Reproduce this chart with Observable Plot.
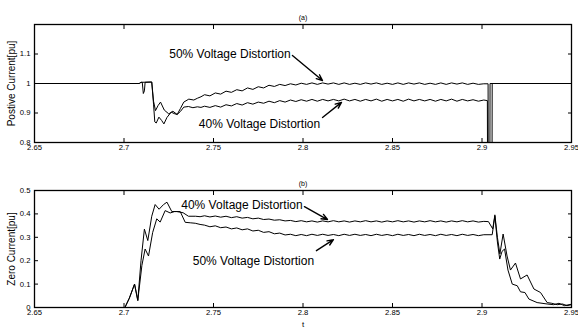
<!DOCTYPE html>
<html><head><meta charset="utf-8">
<script src="https://cdn.jsdelivr.net/npm/d3@7"></script>
<script src="https://cdn.jsdelivr.net/npm/@observablehq/plot@0.6"></script>
<style>body{margin:0;background:#fff;} svg{display:block;}</style>
</head><body><div id="chart"></div>
<script>
// ---- data ----
const xTicks = [2.65, 2.7, 2.75, 2.8, 2.85, 2.9, 2.95];
const posTicks = [0.8, 0.9, 1, 1.1];
const zeroTicks = [0, 0.1, 0.2, 0.3, 0.4, 0.5];

const tSteady = [
 2.745,2.748,2.751,2.754,2.757,2.760,2.763,2.766,2.769,2.772,
 2.775,2.778,2.781,2.784,2.787,2.790,2.793,2.796,2.799,2.802,
 2.805,2.808,2.811,2.814,2.817,2.820,2.823,2.826,2.829,2.832,
 2.835,2.838,2.841,2.844,2.847,2.850,2.853,2.856,2.859,2.862,
 2.865,2.868,2.871,2.874,2.877,2.880,2.883,2.886,2.889,2.892,
 2.895,2.898,2.901];

// (a) positive current, 40% distortion
const pos40Start = [[2.65,1.0],[2.7085,1.0],[2.7095,1.004],[2.7155,1.005],[2.7165,0.93],[2.7172,0.87],[2.7180,0.866],[2.7195,0.886],[2.7210,0.875],[2.7223,0.863],[2.7240,0.885],[2.7264,0.903],[2.7280,0.898],[2.7297,0.895],[2.7315,0.905],[2.7334,0.92],[2.7360,0.922],[2.7385,0.918],[2.7410,0.921],[2.7430,0.919]];
const pos40Steady = [
 0.923,0.919,0.925,0.920,0.928,0.924,0.932,0.927,0.935,0.930,
 0.937,0.933,0.940,0.935,0.942,0.937,0.944,0.939,0.945,0.940,
 0.946,0.940,0.946,0.941,0.946,0.941,0.947,0.941,0.946,0.940,
 0.946,0.941,0.947,0.940,0.946,0.941,0.946,0.940,0.947,0.941,
 0.946,0.941,0.946,0.940,0.946,0.941,0.947,0.940,0.946,0.941,
 0.945,0.940,0.944];
const pos40End = [[2.9030,0.942],[2.9031,0.70],[2.9044,0.70],[2.9045,1.0],[2.95,1.0]];

// (a) positive current, 50% distortion
const pos50Start = [[2.65,1.0],[2.7085,1.0],[2.7095,1.004],[2.7102,1.004],[2.7108,0.966],[2.7114,0.975],[2.7118,1.004],[2.7155,1.005],[2.7165,0.94],[2.7176,0.908],[2.7190,0.925],[2.7204,0.937],[2.7225,0.91],[2.7250,0.897],[2.7273,0.906],[2.7297,0.895],[2.7315,0.915],[2.7334,0.937],[2.7362,0.947],[2.7390,0.944],[2.7410,0.95],[2.7430,0.955]];
const pos50Steady = [
 0.962,0.958,0.968,0.964,0.974,0.970,0.979,0.975,0.985,0.980,
 0.989,0.985,0.994,0.990,0.997,0.993,0.999,0.995,1.001,0.997,
 1.002,0.997,1.002,0.998,1.002,0.997,1.002,0.997,1.001,0.997,
 1.002,0.998,1.002,0.997,1.001,0.997,1.002,0.997,1.002,0.998,
 1.002,0.997,1.001,0.997,1.002,0.997,1.002,0.998,1.002,0.997,
 1.001,0.997,0.999];
const pos50End = [[2.9034,0.999],[2.9035,0.70],[2.9056,0.70],[2.9057,1.0],[2.95,1.0]];

// (b) zero current, 40% distortion
const zero40Start = [[2.65,0],[2.7005,0],[2.7030,0.04],[2.7059,0.10],[2.7077,0.03],[2.7095,0.2],[2.7114,0.335],[2.7133,0.286],[2.7155,0.39],[2.7174,0.44],[2.7196,0.42],[2.7221,0.44],[2.7240,0.45],[2.7267,0.41],[2.7295,0.41],[2.7330,0.405],[2.7360,0.39],[2.7400,0.39],[2.7425,0.388]];
const zero40Steady = [
 0.392,0.387,0.391,0.386,0.390,0.384,0.388,0.382,0.385,0.379,
 0.382,0.376,0.378,0.373,0.375,0.370,0.372,0.367,0.371,0.366,
 0.370,0.365,0.370,0.366,0.371,0.366,0.370,0.365,0.370,0.366,
 0.371,0.366,0.370,0.365,0.370,0.366,0.371,0.366,0.370,0.365,
 0.370,0.366,0.371,0.366,0.370,0.365,0.370,0.366,0.371,0.366,
 0.370,0.365,0.368];
const zero40End = [[2.9036,0.367],[2.9060,0.336],[2.9072,0.396],[2.9086,0.30],[2.9100,0.229],[2.9118,0.314],[2.9140,0.22],[2.9159,0.16],[2.9187,0.19],[2.9215,0.122],[2.9252,0.139],[2.9290,0.079],[2.9327,0.064],[2.9364,0.021],[2.9390,0.018],[2.9420,0.012],[2.9450,0.015],[2.9475,0.008],[2.95,0.012]];

// (b) zero current, 50% distortion
const zero50Start = [[2.65,0],[2.7005,0],[2.7030,0.04],[2.7059,0.10],[2.7077,0.03],[2.7100,0.18],[2.7118,0.25],[2.7137,0.22],[2.7160,0.32],[2.7183,0.379],[2.7202,0.365],[2.7230,0.414],[2.7258,0.404],[2.7282,0.41],[2.7314,0.41],[2.7342,0.364],[2.7370,0.362],[2.7398,0.36],[2.7425,0.355]];
const zero50Steady = [
 0.352,0.345,0.349,0.341,0.344,0.336,0.340,0.332,0.336,0.327,
 0.330,0.321,0.324,0.315,0.318,0.310,0.313,0.307,0.312,0.307,
 0.313,0.308,0.313,0.308,0.312,0.307,0.313,0.308,0.313,0.308,
 0.312,0.307,0.313,0.308,0.312,0.307,0.313,0.308,0.312,0.307,
 0.313,0.308,0.312,0.307,0.313,0.308,0.312,0.307,0.313,0.308,
 0.312,0.307,0.311];
const zero50End = [[2.9057,0.311],[2.9066,0.36],[2.9072,0.39],[2.9086,0.28],[2.9099,0.207],[2.9112,0.24],[2.9126,0.25],[2.9145,0.16],[2.9169,0.10],[2.9197,0.093],[2.9215,0.067],[2.9240,0.064],[2.9262,0.036],[2.9308,0.021],[2.9364,0.015],[2.9400,0.012],[2.9430,0.018],[2.9460,0.008],[2.95,0.014]];

// annotations
const posLabels = [
  {text: "50% Voltage Distortion", t: 2.7592, v: 1.098},
  {text: "40% Voltage Distortion", t: 2.7757, v: 0.861}];
const posArrows = [
  {t1: 2.7941, v1: 1.095, t2: 2.8109, v2: 1.010},
  {t1: 2.8109, v1: 0.885, t2: 2.8215, v2: 0.936}];
const zeroLabels = [
  {text: "40% Voltage Distortion", t: 2.7659, v: 0.436},
  {text: "50% Voltage Distortion", t: 2.7723, v: 0.200}];
const zeroArrows = [
  {t1: 2.8008, v1: 0.431, t2: 2.8137, v2: 0.376},
  {t1: 2.8075, v1: 0.243, t2: 2.8170, v2: 0.290}];

// ---- build ----
function series(name, start, steady, end) {
  const rows = [];
  for (const [t, v] of start) rows.push({t, v, s: name});
  steady.forEach((v, i) => { if (i < tSteady.length) rows.push({t: tSteady[i], v, s: name}); });
  for (const [t, v] of end) rows.push({t, v, s: name});
  return rows;
}
const posData = [...series("40%", pos40Start, pos40Steady, pos40End), ...series("50%", pos50Start, pos50Steady, pos50End)];
const zeroData = [...series("40%", zero40Start, zero40Steady, zero40End), ...series("50%", zero50Start, zero50Steady, zero50End)];

const FONT = "'Liberation Sans', Arial, Helvetica, sans-serif";
const fmt = d => String(d);

function panel({data, yDomain, yTicks, yLabel, title, labels, arrows, xLabel, marginTop, marginBottom}) {
  const marks = [
    Plot.line(data, {x: "t", y: "v", z: "s", stroke: "black", strokeWidth: 1, clip: true}),
    Plot.frame({stroke: "black", strokeWidth: 1.3}),
    Plot.axisX({ticks: xTicks, tickSize: -4, tickPadding: 6, fontSize: 7.7, tickFormat: fmt, label: null}),
    Plot.axisX({anchor: "top", ticks: xTicks, tickSize: -4, tickFormat: () => "", label: null}),
    Plot.axisY({ticks: yTicks, tickSize: -4, tickPadding: 8, fontSize: 7.7, tickFormat: fmt, label: null}),
    Plot.axisY({anchor: "right", ticks: yTicks, tickSize: -4, tickFormat: () => "", label: null}),
    Plot.text([yLabel], {frameAnchor: "left", rotate: -90, dx: -27, lineAnchor: "top", textAnchor: "middle", fontSize: 10, fill: "black"}),
    Plot.text([title], {frameAnchor: "top", dy: -9, textAnchor: "middle", fontSize: 7, fill: "black"}),
    Plot.text(labels, {x: "t", y: "v", text: "text", fontSize: 12, fill: "black"}),
    Plot.arrow(arrows, {x1: "t1", y1: "v1", x2: "t2", y2: "v2", stroke: "black", strokeWidth: 1.4, headLength: 7, headAngle: 45})
  ];
  if (xLabel) marks.push(Plot.text([xLabel], {frameAnchor: "bottom", dy: 19, lineAnchor: "bottom", textAnchor: "middle", fontSize: 8, fill: "black"}));
  return Plot.plot({
    width: 578, height: 164,
    marginLeft: 34, marginRight: 7, marginTop, marginBottom,
    style: {fontFamily: FONT, background: "white", color: "black", overflow: "visible"},
    x: {domain: [2.65, 2.95]},
    y: {domain: yDomain},
    marks
  });
}

const root = document.getElementById("chart");
root.append(panel({data: posData, yDomain: [0.8, 1.2], yTicks: posTicks, yLabel: "Postive Current[pu]", title: "(a)",
  labels: posLabels, arrows: posArrows, marginTop: 24, marginBottom: 22}));
root.append(panel({data: zeroData, yDomain: [0, 0.5], yTicks: zeroTicks, yLabel: "Zero Current[pu]", title: "(b)",
  labels: zeroLabels, arrows: zeroArrows, xLabel: "t", marginTop: 26, marginBottom: 21}));
</script></body></html>
